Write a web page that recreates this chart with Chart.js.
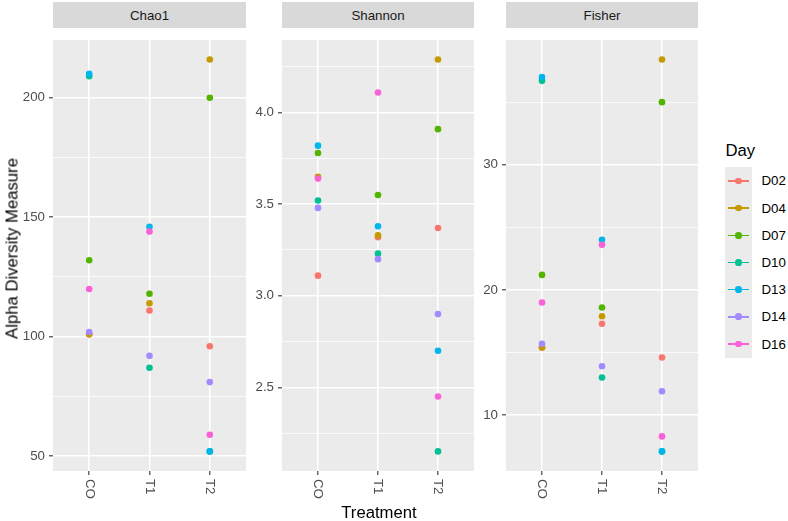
<!DOCTYPE html>
<html>
<head>
<meta charset="utf-8">
<script src="https://cdn.jsdelivr.net/npm/chart.js@4.4.1/dist/chart.umd.min.js"></script>
<style>
  body { margin: 0; background: #fff; font-family: "Liberation Sans", Arial, sans-serif; }
  #wrap { position: relative; width: 788px; height: 521px; overflow: hidden; }
  canvas { position: absolute; top: 28px; }
  .strip { position: absolute; top: 2px; height: 26px; background: #D9D9D9; color: #1A1A1A;
           font-size: 13.3px; line-height: 27px; text-align: center; }
  .title { position: absolute; color: #000; font-size: 16.7px; line-height: 17px; white-space: nowrap; }
  #ytitle { left: -138.5px; top: 240px; width: 300px; text-align: center; transform: rotate(-90deg); }
  #xtitle { left: 279px; top: 503.5px; width: 200px; text-align: center; }
  #legtitle { left: 725.5px; top: 141.5px; }
  #legbox { position: absolute; left: 725px; top: 167.3px; width: 26.7px; background: #EBEBEB; }
  .key { position: relative; height: 27.2px; }
  .key .ln { position: absolute; left: 2.7px; width: 21.6px; top: 12.85px; height: 1.5px; }
  .key .pt { position: absolute; left: 10px; top: 10.25px; width: 6.7px; height: 6.7px; border-radius: 50%; }
  .leglab { position: absolute; left: 761.5px; font-size: 13.3px; color: #000; line-height: 27.2px; }
</style>
</head>
<body>
<div id="wrap">
  <div class="strip" style="left:53px;width:193px;">Chao1</div>
  <div class="strip" style="left:282px;width:192px;">Shannon</div>
  <div class="strip" style="left:506px;width:192px;">Fisher</div>
  <canvas id="c1" width="246" height="493" style="left:0px;"></canvas>
  <canvas id="c2" width="224" height="493" style="left:250px;"></canvas>
  <canvas id="c3" width="222" height="493" style="left:476px;"></canvas>
  <div id="ytitle" class="title">Alpha Diversity Measure</div>
  <div id="xtitle" class="title">Treatment</div>
  <div id="legtitle" class="title">Day</div>
  <div id="legbox"></div>
</div>
<script>
const treatments = ['CO', 'T1', 'T2'];
const days = ['D02', 'D04', 'D07', 'D10', 'D13', 'D14', 'D16'];
const dayColors = ['#F8766D', '#C49A00', '#53B400', '#00C094', '#00B6EB', '#A58AFF', '#FB61D7'];

// values per day, in the order of `days`
const chao1CO = [101, 101, 132, 209, 210, 102, 120];
const chao1T1 = [111, 114, 118, 87, 146, 92, 144];
const chao1T2 = [96, 216, 200, 52, 52, 81, 59];
const shannonCO = [3.11, 3.65, 3.78, 3.52, 3.82, 3.48, 3.64];
const shannonT1 = [3.32, 3.33, 3.55, 3.23, 3.38, 3.20, 4.11];
const shannonT2 = [3.37, 4.29, 3.91, 2.15, 2.70, 2.90, 2.45];
const fisherCO = [15.4, 15.4, 21.2, 36.7, 37.0, 15.7, 19.0];
const fisherT1 = [17.3, 17.9, 18.6, 13.0, 24.0, 13.9, 23.6];
const fisherT2 = [14.6, 38.4, 35.0, 7.1, 7.1, 11.9, 8.3];

// tick labels
const chao1Ticks = [50, 100, 150, 200];
const chao1Minor = [75, 125, 175];
const shannonTicks = [2.5, 3.0, 3.5, 4.0];
const shannonMinor = [2.25, 2.75, 3.25, 3.75, 4.25];
const fisherTicks = [10, 20, 30];
const fisherMinor = [15, 25, 35];

const FONT = '"Liberation Sans", Arial, sans-serif';

// grey panel + rotated treatment labels
const panelPlugin = {
  id: 'panel',
  beforeDraw(chart) {
    const a = chart.chartArea, ctx = chart.ctx;
    ctx.save();
    ctx.fillStyle = '#EBEBEB';
    ctx.fillRect(a.left, a.top, a.right - a.left, a.bottom - a.top);
    ctx.restore();
  },
  afterDraw(chart) {
    const ctx = chart.ctx, xs = chart.scales.x, y0 = chart.chartArea.bottom + 8;
    ctx.save();
    ctx.fillStyle = '#4D4D4D';
    ctx.font = '13.3px ' + FONT;
    ctx.textAlign = 'left';
    ctx.textBaseline = 'middle';
    treatments.forEach((t, k) => {
      ctx.save();
      ctx.translate(xs.getPixelForValue(k + 1), y0);
      ctx.rotate(Math.PI / 2);
      ctx.fillText(t, 0, 0);
      ctx.restore();
    });
    ctx.restore();
  }
};

function makePanel(id, co, t1, t2, majors, minors, fmt, yWidth) {
  const all = co.concat(t1, t2);
  const lo = Math.min(...all), hi = Math.max(...all), pad = (hi - lo) * 0.05;
  const isMajor = ctx => ctx.tick && majors.includes(ctx.tick.value);
  const datasets = days.map((d, i) => ({
    label: d,
    data: [co[i], t1[i], t2[i]].map((v, k) => ({ x: k + 1, y: v })),
    backgroundColor: dayColors[i],
    pointRadius: 3.3,
    pointBorderWidth: 0,
    order: days.length - i,
  }));
  return new Chart(document.getElementById(id).getContext('2d'), {
    type: 'scatter',
    data: { datasets },
    options: {
      responsive: false, animation: false,
      layout: { padding: 0, autoPadding: false },
      plugins: { legend: { display: false }, tooltip: { enabled: false } },
      scales: {
        x: {
          type: 'linear', min: 0.4, max: 3.6,
          afterBuildTicks: s => { s.ticks = treatments.map((t, k) => ({ value: k + 1 })); },
          afterFit: s => { s.height = 50; },
          ticks: { display: false },
          grid: { color: '#FFFFFF', lineWidth: 1.6, tickLength: 4, tickColor: '#333333', tickWidth: 1.1 },
          border: { display: false },
        },
        y: {
          min: lo - pad, max: hi + pad,
          afterBuildTicks: s => { s.ticks = majors.concat(minors).sort((a, b) => a - b).map(v => ({ value: v })); },
          afterFit: s => { s.width = yWidth; },
          ticks: {
            autoSkip: false, padding: 4, color: '#4D4D4D',
            font: { size: 13.3, family: FONT },
            callback: v => majors.includes(v) ? fmt(v) : '',
          },
          grid: {
            color: '#FFFFFF', tickLength: 4, tickWidth: 1.1,
            lineWidth: ctx => isMajor(ctx) ? 1.6 : 0.8,
            tickColor: ctx => isMajor(ctx) ? '#333333' : 'rgba(0,0,0,0)',
          },
          border: { display: false },
        },
      },
    },
    plugins: [panelPlugin],
  });
}

makePanel('c1', chao1CO, chao1T1, chao1T2, chao1Ticks, chao1Minor, v => String(v), 53);
makePanel('c2', shannonCO, shannonT1, shannonT2, shannonTicks, shannonMinor, v => v.toFixed(1), 32);
makePanel('c3', fisherCO, fisherT1, fisherT2, fisherTicks, fisherMinor, v => String(v), 30);

// legend
const box = document.getElementById('legbox');
const wrap = document.getElementById('wrap');
days.forEach((d, i) => {
  const key = document.createElement('div');
  key.className = 'key';
  key.innerHTML = '<div class="ln" style="background:' + dayColors[i] + '"></div>' +
                  '<div class="pt" style="background:' + dayColors[i] + '"></div>';
  box.appendChild(key);
  const lab = document.createElement('div');
  lab.className = 'leglab';
  lab.style.top = (167.3 + i * 27.2) + 'px';
  lab.textContent = d;
  wrap.appendChild(lab);
});
</script>
</body>
</html>
